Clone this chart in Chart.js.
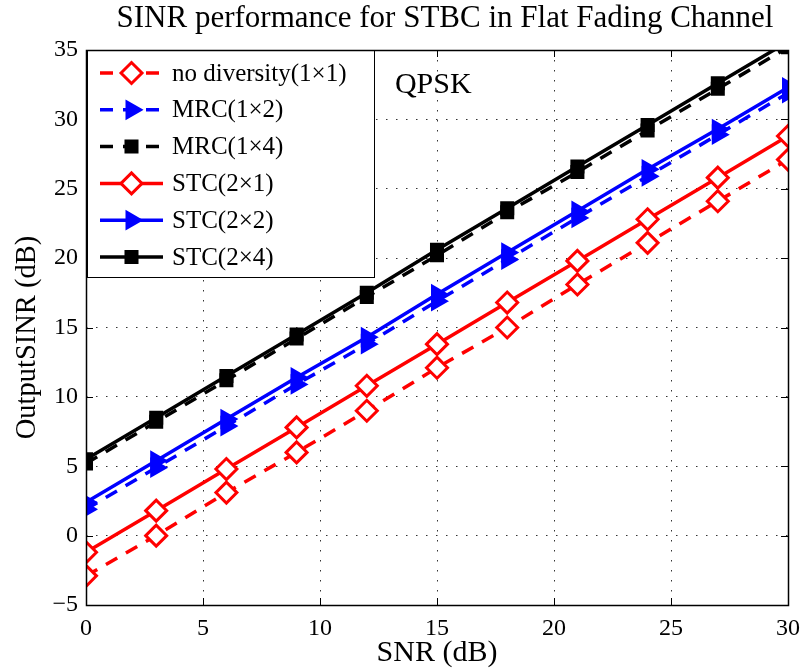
<!DOCTYPE html>
<html><head><meta charset="utf-8">
<script src="https://cdn.jsdelivr.net/npm/chart.js@4/dist/chart.umd.min.js"></script>
<style>html,body{margin:0;padding:0;background:#fff;} #wrap{width:804px;height:671px;position:relative;}</style>
</head><body><div id="wrap"><canvas id="c" width="804" height="671"></canvas></div>
<script>
// ---- data ----
const snr = [0, 3, 6, 9, 12, 15, 18, 21, 24, 27, 30];
const noDiversity = [-2.9, 0.0, 3.1, 6.0, 9.0, 12.1, 15.0, 18.1, 21.1, 24.1, 27.1];
const mrc12 = [1.9, 4.9, 7.9, 10.9, 13.8, 16.9, 19.9, 22.9, 25.9, 28.9, 31.9];
const mrc14 = [5.2, 8.2, 11.2, 14.2, 17.2, 20.2, 23.3, 26.2, 29.2, 32.2, 35.2];
const stc21 = [-1.2, 1.8, 4.8, 7.8, 10.8, 13.8, 16.8, 19.8, 22.8, 25.8, 28.8];
const stc22 = [2.4, 5.4, 8.4, 11.4, 14.3, 17.4, 20.4, 23.4, 26.4, 29.3, 32.3];
const stc24 = [5.5, 8.5, 11.5, 14.5, 17.5, 20.6, 23.6, 26.6, 29.6, 32.6, 35.6];
const seriesNames = ['no diversity(1\u00d71)', 'MRC(1\u00d72)', 'MRC(1\u00d74)', 'STC(2\u00d71)', 'STC(2\u00d72)', 'STC(2\u00d74)'];
const xTicks = [0, 5, 10, 15, 20, 25, 30];
const yTicks = [-5, 0, 5, 10, 15, 20, 25, 30, 35];
const titleText = 'SINR performance for STBC in Flat Fading Channel';
const xTitle = 'SNR (dB)';
const yTitle = 'OutputSINR (dB)';
const noteText = 'QPSK';

const SERIF = "'Liberation Serif', 'Times New Roman', serif";
const RED = '#ff0000', BLUE = '#0000ff', BLACK = '#000000';

function pts(ys) { return snr.map((x, i) => ({x: x, y: ys[i]})); }

function ds(label, ys, color, dashed, style) {
  const o = {
    label: label, data: pts(ys), borderColor: color, borderWidth: 3.5,
    borderDash: dashed ? [13, 10] : [], pointBorderColor: color,
    pointStyle: style, pointBorderWidth: 2.5, tension: 0, fill: false
  };
  if (style === 'rectRot') { o.pointRadius = 10.5; o.pointBackgroundColor = '#ffffff'; o.pointBorderWidth = 3; }
  if (style === 'triangle') { o.pointRadius = 10; o.pointRotation = 90; o.pointBackgroundColor = color; o.pointBorderWidth = 2; }
  if (style === 'rect') { o.pointRadius = 8.5; o.pointBackgroundColor = color; o.pointBorderWidth = 2; }
  o.pointHoverRadius = o.pointRadius;
  return o;
}

const datasets = [
  ds(seriesNames[0], noDiversity, RED, true, 'rectRot'),
  ds(seriesNames[1], mrc12, BLUE, true, 'triangle'),
  ds(seriesNames[2], mrc14, BLACK, true, 'rect'),
  ds(seriesNames[3], stc21, RED, false, 'rectRot'),
  ds(seriesNames[4], stc22, BLUE, false, 'triangle'),
  ds(seriesNames[5], stc24, BLACK, false, 'rect')
];

const framePlugin = {
  id: 'frame',
  beforeDatasetsDraw(chart) {
    const ctx = chart.ctx, ca = chart.chartArea;
    const xs = chart.scales.x, ys = chart.scales.y;
    ctx.save();
    ctx.strokeStyle = '#000'; ctx.lineWidth = 1;
    const L = 7;
    xTicks.forEach(v => {
      const p = Math.round(xs.getPixelForValue(v)) + 0.5;
      ctx.beginPath();
      ctx.moveTo(p, ca.bottom); ctx.lineTo(p, ca.bottom - L);
      ctx.moveTo(p, ca.top); ctx.lineTo(p, ca.top + L);
      ctx.stroke();
    });
    yTicks.forEach(v => {
      const p = Math.round(ys.getPixelForValue(v)) + 0.5;
      ctx.beginPath();
      ctx.moveTo(ca.left, p); ctx.lineTo(ca.left + L, p);
      ctx.moveTo(ca.right, p); ctx.lineTo(ca.right - L, p);
      ctx.stroke();
    });
    ctx.restore();
  },
  afterDatasetsDraw(chart) {
    const ctx = chart.ctx, ca = chart.chartArea;
    ctx.save();
    // note text
    ctx.fillStyle = '#000';
    ctx.font = '30px ' + SERIF;
    ctx.textAlign = 'left'; ctx.textBaseline = 'middle';
    ctx.fillText(noteText, chart.scales.x.getPixelForValue(13.2), chart.scales.y.getPixelForValue(32.5));
    // legend box
    const x0 = Math.round(ca.left) + 1, y0 = Math.round(ca.top), w = 287, h = 227;
    ctx.fillStyle = '#fff'; ctx.fillRect(x0, y0, w, h);
    ctx.strokeStyle = '#000'; ctx.lineWidth = 1; ctx.strokeRect(x0 + 0.5, y0 + 0.5, w, h);
    chart.data.datasets.forEach((d, i) => {
      const y = y0 + 23 + i * 36.8;
      ctx.strokeStyle = d.borderColor; ctx.lineWidth = d.borderWidth;
      ctx.setLineDash(d.borderDash || []);
      ctx.beginPath(); ctx.moveTo(x0 + 13, y); ctx.lineTo(x0 + 76, y); ctx.stroke();
      ctx.setLineDash([]);
      ctx.fillStyle = d.pointBackgroundColor; ctx.strokeStyle = d.pointBorderColor; ctx.lineWidth = d.pointBorderWidth;
      Chart.helpers.drawPoint(ctx, {pointStyle: d.pointStyle, rotation: d.pointRotation || 0, radius: d.pointRadius, borderWidth: d.pointBorderWidth}, x0 + 44.5, y);
      ctx.fillStyle = '#000';
      ctx.font = '25px ' + SERIF;
      ctx.textAlign = 'left'; ctx.textBaseline = 'middle';
      ctx.fillText(d.label, x0 + 85, y + 1);
    });
    // plot frame
    ctx.strokeStyle = '#000'; ctx.lineWidth = 1.5;
    ctx.strokeRect(Math.round(ca.left) + 0.5, Math.round(ca.top) + 0.5, Math.round(ca.right - ca.left), Math.round(ca.bottom - ca.top));
    // title
    ctx.fillStyle = '#000';
    ctx.font = '31px ' + SERIF;
    ctx.textAlign = 'center'; ctx.textBaseline = 'middle';
    ctx.fillText(titleText, (ca.left + ca.right) / 2 + 8, 19);
    // y-axis title
    ctx.save();
    ctx.translate(28, (ca.top + ca.bottom) / 2 + 10);
    ctx.rotate(-Math.PI / 2);
    ctx.font = '28.5px ' + SERIF;
    ctx.textAlign = 'center'; ctx.textBaseline = 'middle';
    ctx.fillText(yTitle, 0, 0);
    ctx.restore();
    ctx.restore();
  }
};

const fmt = v => String(v).replace('-', '\u2212');

new Chart(document.getElementById('c'), {
  type: 'line',
  data: { datasets: datasets },
  options: {
    responsive: false, animation: false, devicePixelRatio: 1,
    layout: { padding: { top: 50, right: 16, bottom: 0, left: 0 } },
    plugins: { legend: { display: false }, title: { display: false }, tooltip: { enabled: false } },
    scales: {
      x: {
        type: 'linear', min: 0, max: 30,
        afterBuildTicks: s => { s.ticks = xTicks.map(v => ({value: v})); },
        afterFit: s => { s.height = 66; s.paddingRight = 16; s.paddingLeft = 0; },
        ticks: { color: '#000', padding: 9, font: { family: SERIF, size: 24 }, callback: fmt, maxRotation: 0 },
        grid: { color: '#333', lineWidth: 1, drawTicks: false },
        border: { display: false, dash: [1.5, 8.5] },
        title: { display: true, text: xTitle, color: '#000', font: { family: SERIF, size: 30 }, padding: { top: 0, bottom: 0 } }
      },
      y: {
        type: 'linear', min: -5, max: 35,
        afterBuildTicks: s => { s.ticks = yTicks.map(v => ({value: v})); },
        afterFit: s => { s.width = 86; },
        ticks: { color: '#000', padding: 8, font: { family: SERIF, size: 24 }, callback: fmt },
        grid: { color: '#333', lineWidth: 1, drawTicks: false },
        border: { display: false, dash: [1.5, 8.5] },
        title: { display: false, text: yTitle }
      }
    }
  },
  plugins: [framePlugin]
});
</script>
</body></html>
